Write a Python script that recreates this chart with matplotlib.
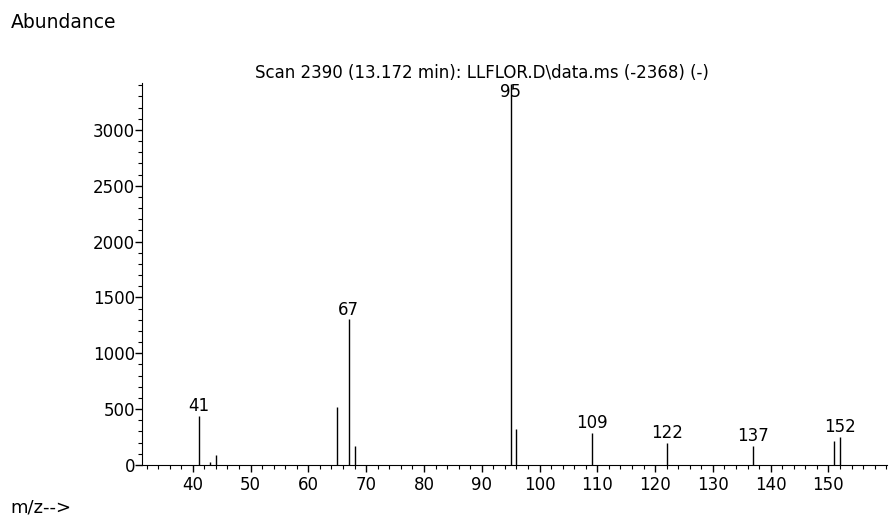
import matplotlib.pyplot as plt
from matplotlib.ticker import MultipleLocator

plt.rcParams['font.family'] = ['DejaVu Sans']

# m/z and abundance
mz = [41, 43, 44, 65, 67, 68, 95, 96, 109, 122, 137, 151, 152]
abundance = [440, 25, 90, 520, 1305, 165, 3410, 322, 290, 200, 170, 215, 250]
labelled = [41, 67, 95, 109, 122, 137, 152]

title = "Scan 2390 (13.172 min): LLFLOR.D\\data.ms (-2368) (-)"

fig = plt.figure(figsize=(8.93, 5.16), dpi=100)
ax = fig.add_axes([0.159, 0.099, 0.834, 0.740])

ax.vlines(mz, 0, abundance, color='black', lw=1.0)

for m, a in zip(mz, abundance):
    if m in labelled:
        if m == 95:
            ax.text(m, 3340, str(m), ha='center', va='center', fontsize=12)
        else:
            ax.text(m, a + 5, str(m), ha='center', va='bottom', fontsize=12)

ax.set_xlim(31.2, 160.1)
ax.set_ylim(0, 3420)
ax.set_xticks(range(40, 160, 10))
ax.xaxis.set_minor_locator(MultipleLocator(2))
ax.yaxis.set_major_locator(MultipleLocator(500))
ax.yaxis.set_minor_locator(MultipleLocator(100))

for s in ['top', 'right']:
    ax.spines[s].set_visible(False)
ax.tick_params(axis='both', which='major', labelsize=12, length=5, width=1)
ax.tick_params(axis='both', which='minor', length=3, width=0.8)
ax.tick_params(axis='x', which='major', pad=3)
ax.tick_params(axis='y', which='major', pad=0)

fig.text(0.540, 0.859, title, fontsize=12, ha='center', va='center')
fig.text(0.012, 0.957, "Abundance", fontsize=13.5, ha='left', va='center')
fig.text(0.012, 0.017, "m/z-->", fontsize=13, ha='left', va='center')

fig.savefig('out.png', dpi=100)
